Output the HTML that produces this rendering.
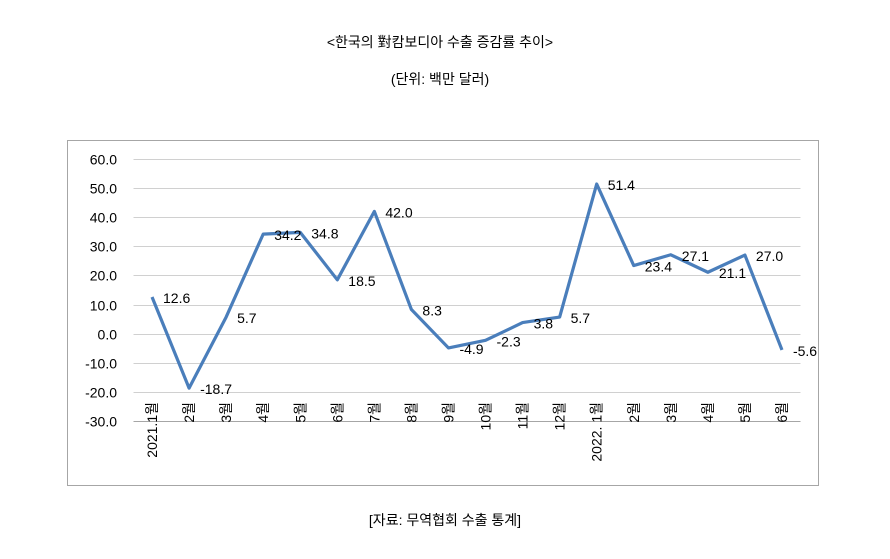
<!DOCTYPE html>
<html><head><meta charset="utf-8">
<style>
body{margin:0;background:#fff;width:890px;height:559px;overflow:hidden;font-family:"Liberation Sans","Noto Sans CJK KR",sans-serif;}
.t{position:absolute;width:890px;text-align:center;font-size:14px;color:#000;}
</style></head><body>
<div class="t" style="top:32px;left:-5px">&lt;한국의 對캄보디아 수출 증감률 추이&gt;</div>
<div class="t" style="top:69px;left:-5px">(단위: 백만 달러)</div>
<svg id="c" width="890" height="559" style="position:absolute;left:0;top:0">
<rect x="67.5" y="140.5" width="751" height="345" fill="none" stroke="#a6a6a6" stroke-width="1"/>
<g id="grid"></g><g id="xl"></g><g id="line"></g><g id="vl"></g>
</svg>
<div class="t" style="top:510px;left:0">[자료: 무역협회 수출 통계]</div>
<script>
const categories=["2021.1월","2월","3월","4월","5월","6월","7월","8월","9월","10월","11월","12월","2022. 1월","2월","3월","4월","5월","6월"];
const values=[12.6,-18.7,5.7,34.2,34.8,18.5,42.0,8.3,-4.9,-2.3,3.8,5.7,51.4,23.4,27.1,21.1,27.0,-5.6];
const yTicks=[60,50,40,30,20,10,0,-10,-20,-30];
const NS="http://www.w3.org/2000/svg";
const L=133.5,R=800.5,T=159,B=421,ymin=-30,ymax=60;
const bw=(R-L)/categories.length;
const xs=i=>L+bw*(i+0.5);
const ys=v=>B-(v-ymin)/(ymax-ymin)*(B-T);
function mk(tag,attrs,parent){const e=document.createElementNS(NS,tag);for(const k in attrs)e.setAttribute(k,attrs[k]);document.getElementById(parent).appendChild(e);return e;}
yTicks.forEach(v=>{
 const y=Math.round(ys(v))+0.5;
 const g=mk("line",{x1:L,x2:R,y1:y,y2:y,stroke:v===-30?"#a6a6a6":"#d0d0d0","stroke-width":1},"grid");
 
 
 const t=mk("text",{x:117,y:y+5,"text-anchor":"end","font-size":14,fill:"#000"},"grid");
 t.textContent=v.toFixed(1);
 
 
});
categories.forEach((c,i)=>{
 const x=xs(i)+5,y=402;
 const t=mk("text",{x:x,y:y,"text-anchor":"end","font-size":14,fill:"#000",transform:`rotate(-90 ${x} ${y})`},"xl");
 t.textContent=c;
 
 
});
const p=mk("polyline",{points:values.map((v,i)=>xs(i)+","+ys(v)).join(" "),fill:"none",stroke:"#4a7ebb","stroke-width":3.2,"stroke-linejoin":"round"},"line");


values.forEach((v,i)=>{
 const t=mk("text",{x:xs(i)+11,y:ys(v)+6,"font-size":14,fill:"#000"},"vl");
 t.textContent=v.toFixed(1);
 
 
});
</script>
</body></html>
